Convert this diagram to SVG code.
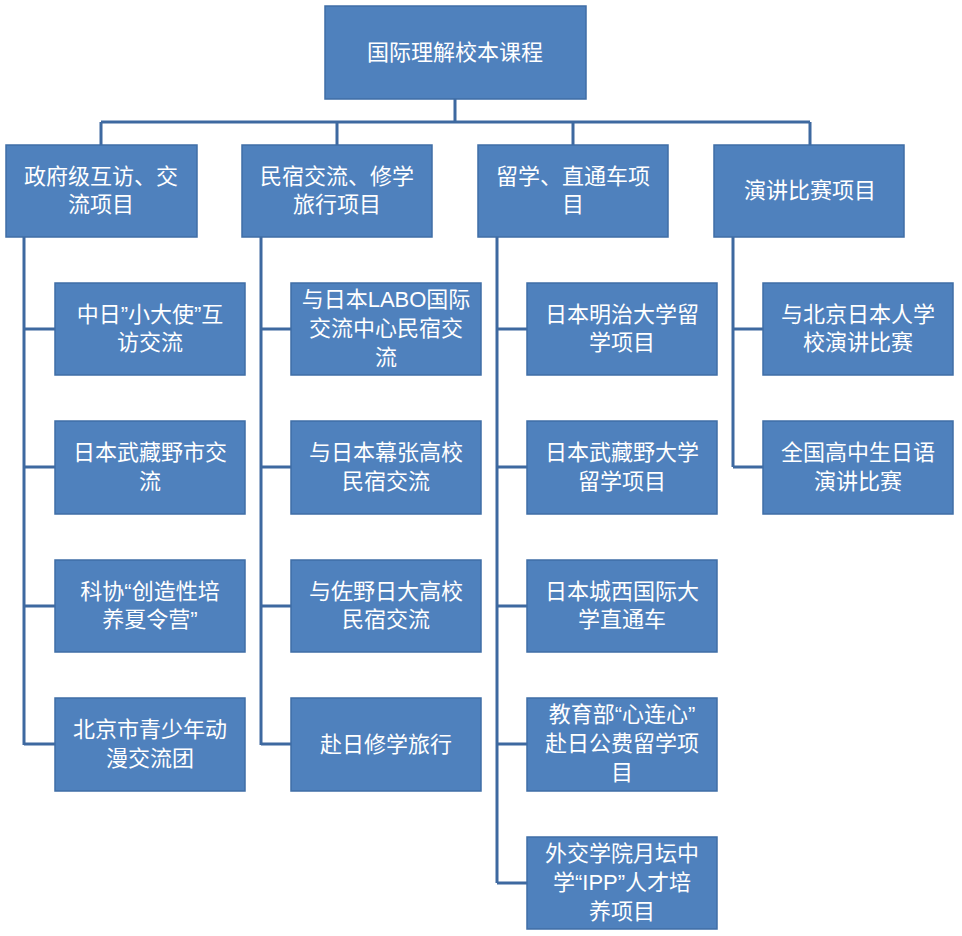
<svg xmlns="http://www.w3.org/2000/svg" width="962" height="936" viewBox="0 0 962 936">
<style>
.b{fill:#4f81bd;stroke:#3f6ea6;stroke-width:1.5}
.t{fill:#fff;font-family:"Liberation Sans","Noto Sans CJK SC",sans-serif;font-size:22px;text-anchor:middle}
.c{fill:none;stroke:#3e69a0;stroke-width:3}
</style>
<rect width="962" height="936" fill="#fff"/>
<g id="connectors" class="c">
<path d="M455 99V122M101 122H810M101 122V145M337 122V145M573 122V145M810 122V145"/>
<path d="M24 237V745M24 329H55M24 467H55M24 606H55M24 744H55"/>
<path d="M261 237V745M261 329H291M261 467H291M261 606H291M261 744H291"/>
<path d="M497 237V883M497 329H527M497 467H527M497 606H527M497 744H527M497 883H527"/>
<path d="M733 237V467M733 329H763M733 467H763"/>
</g>
<g id="root"><rect class="b" x="325" y="6" width="261" height="93"/><text class="t" x="455" y="60">国际理解校本课程</text></g>
<g id="n1"><rect class="b" x="6" y="145" width="191" height="92"/><text class="t" x="101" y="184">政府级互访、交</text><text class="t" x="101" y="212">流项目</text></g>
<g id="n2"><rect class="b" x="242" y="145" width="190" height="92"/><text class="t" x="337" y="184">民宿交流、修学</text><text class="t" x="337" y="212">旅行项目</text></g>
<g id="n3"><rect class="b" x="478" y="145" width="190" height="92"/><text class="t" x="573" y="184">留学、直通车项</text><text class="t" x="573" y="212">目</text></g>
<g id="n4"><rect class="b" x="714" y="145" width="190" height="92"/><text class="t" x="810" y="198">演讲比赛项目</text></g>

<g id="a1"><rect class="b" x="55" y="283" width="190" height="92"/><text class="t" x="150" y="322">中日”小大使”互</text><text class="t" x="150" y="350">访交流</text></g>
<g id="a2"><rect class="b" x="55" y="421" width="190" height="93"/><text class="t" x="150" y="460">日本武藏野市交</text><text class="t" x="150" y="489">流</text></g>
<g id="a3"><rect class="b" x="55" y="560" width="190" height="92"/><text class="t" x="150" y="599">科协“创造性培</text><text class="t" x="150" y="627">养夏令营”</text></g>
<g id="a4"><rect class="b" x="55" y="698" width="190" height="93"/><text class="t" x="150" y="737">北京市青少年动</text><text class="t" x="150" y="766">漫交流团</text></g>

<g id="b1"><rect class="b" x="291" y="283" width="190" height="92"/><text class="t" x="386" y="307">与日本LABO国际</text><text class="t" x="386" y="336">交流中心民宿交</text><text class="t" x="386" y="365">流</text></g>
<g id="b2"><rect class="b" x="291" y="421" width="190" height="93"/><text class="t" x="386" y="460">与日本幕张高校</text><text class="t" x="386" y="489">民宿交流</text></g>
<g id="b3"><rect class="b" x="291" y="560" width="190" height="92"/><text class="t" x="386" y="599">与佐野日大高校</text><text class="t" x="386" y="627">民宿交流</text></g>
<g id="b4"><rect class="b" x="291" y="698" width="190" height="93"/><text class="t" x="386" y="752">赴日修学旅行</text></g>

<g id="c1"><rect class="b" x="527" y="283" width="190" height="92"/><text class="t" x="622" y="322">日本明治大学留</text><text class="t" x="622" y="350">学项目</text></g>
<g id="c2"><rect class="b" x="527" y="421" width="190" height="93"/><text class="t" x="622" y="460">日本武藏野大学</text><text class="t" x="622" y="489">留学项目</text></g>
<g id="c3"><rect class="b" x="527" y="560" width="190" height="92"/><text class="t" x="622" y="599">日本城西国际大</text><text class="t" x="622" y="627">学直通车</text></g>
<g id="c4"><rect class="b" x="527" y="698" width="190" height="93"/><text class="t" x="622" y="722">教育部“心连心”</text><text class="t" x="622" y="751">赴日公费留学项</text><text class="t" x="622" y="780">目</text></g>
<g id="c5"><rect class="b" x="527" y="837" width="190" height="92"/><text class="t" x="622" y="861">外交学院月坛中</text><text class="t" x="622" y="890">学“IPP”人才培</text><text class="t" x="622" y="919">养项目</text></g>

<g id="d1"><rect class="b" x="763" y="283" width="190" height="92"/><text class="t" x="858" y="322">与北京日本人学</text><text class="t" x="858" y="350">校演讲比赛</text></g>
<g id="d2"><rect class="b" x="763" y="421" width="190" height="93"/><text class="t" x="858" y="460">全国高中生日语</text><text class="t" x="858" y="489">演讲比赛</text></g>
</svg>
